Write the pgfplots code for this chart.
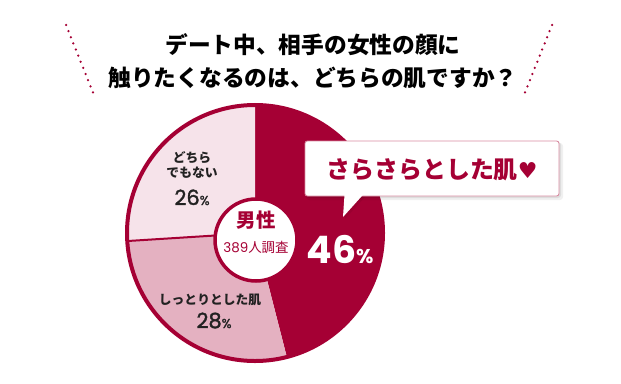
\documentclass[border=0pt]{standalone}
\usepackage{pgfplots}
\pgfplotsset{compat=1.18}
\usepackage{pgfplotstable}
\usepackage{fontspec}
\setmainfont{Noto Sans CJK JP}
\newfontfamily\jp{Noto Sans CJK JP}
\newfontfamily\pop{Poppins}
\newfontfamily\popm[FakeBold=1.6]{Poppins}
\newfontfamily\dv{DejaVu Sans}
\definecolor{crim}{HTML}{A50034}
\definecolor{lpink}{HTML}{E4B1C1}
\definecolor{vlpink}{HTML}{F6E3EA}
\definecolor{cborder}{HTML}{D98CA2}
\definecolor{dtext}{HTML}{222222}
\pgfplotstableread{
label value
sarasara 46
shittori 28
dochira 26
}\piedata
\begin{document}%
\pgfplotstablegetelem{0}{value}\of\piedata\let\va\pgfplotsretval%
\pgfplotstablegetelem{1}{value}\of\piedata\let\vb\pgfplotsretval%
\pgfplotstablegetelem{2}{value}\of\piedata\let\vc\pgfplotsretval%
\pgfmathsetmacro\aA{90}%
\pgfmathsetmacro\aB{90-3.6*\va}%
\pgfmathsetmacro\aC{\aB-3.6*\vb}%
\pgfmathsetmacro\aD{\aC-3.6*\vc}%
\begin{tikzpicture}
\begin{axis}[x=1bp,y=1bp,xmin=0,xmax=621,ymin=0,ymax=383,hide axis,clip=false]
\path (axis cs:0,0) rectangle (axis cs:621,383);
% title
\node[font=\jp\bfseries\fontsize{22.8}{27}\selectfont, text=black] at (axis cs:313,338) {デート中、相手の女性の顔に};
\node[font=\jp\bfseries\fontsize{22.8}{27}\selectfont, text=black] at (axis cs:313,305) {触りたくなるのは、どちらの肌ですか？};
% dotted lines
\draw[crim, line width=2.5bp, line cap=round, dash pattern=on 0pt off 6.6bp] (axis cs:66,358) -- (axis cs:93,290.5);
\draw[crim, line width=2.5bp, line cap=round, dash pattern=on 0pt off 6.6bp] (axis cs:552,358) -- (axis cs:525,290.5);
% pie
\fill[crim] (axis cs:255,150) -- ++(\aA:128bp) arc[start angle=\aA, end angle=\aB, radius=128bp] -- cycle;
\fill[lpink] (axis cs:255,150) -- ++(\aB:128bp) arc[start angle=\aB, end angle=\aC, radius=128bp] -- cycle;
\fill[vlpink] (axis cs:255,150) -- ++(\aC:128bp) arc[start angle=\aC, end angle=\aD, radius=128bp] -- cycle;
\draw[crim, line width=2bp] (axis cs:255,150) -- ++(\aC:128bp);
\draw[crim, line width=4bp] (axis cs:255,150) circle[radius=128bp];
\draw[crim, line width=3.5bp, fill=white] (axis cs:256,143) circle[radius=41bp];
% center text
\node[font=\jp\bfseries\fontsize{19.5}{22}\selectfont, text=crim] at (axis cs:256,163) {男性};
\node[font=\fontsize{13.5}{15}\selectfont, text=crim] at (axis cs:256,136) {{\pop 389}{\jp 人調査}};
% slice labels
\node[font=\jp\bfseries\fontsize{12.8}{15}\selectfont, text=dtext] at (axis cs:192,225) {どちら};
\node[font=\jp\bfseries\fontsize{12.8}{15}\selectfont, text=dtext] at (axis cs:192,210) {でもない};
\node[anchor=base, text=dtext, inner sep=0pt] at (axis cs:192,178) {{\popm\fontsize{21}{24}\selectfont 26}{\popm\fontsize{13}{15}\selectfont\%}};
\node[font=\jp\bfseries\fontsize{12.8}{15}\selectfont, text=dtext] at (axis cs:210,83) {しっとりとした肌};
\node[anchor=base, text=dtext, inner sep=0pt] at (axis cs:214,55) {{\popm\fontsize{21}{24}\selectfont 28}{\popm\fontsize{13}{15}\selectfont\%}};
\node[anchor=base, text=white, inner sep=0pt] at (axis cs:340,120) {{\pop\bfseries\fontsize{38}{40}\selectfont 46}{\pop\bfseries\fontsize{20}{22}\selectfont\%}};
% callout
\fill[black, opacity=0.06, rounded corners=3bp] (axis cs:306,240) rectangle (axis cs:563,183);
\fill[black, opacity=0.08, rounded corners=3bp] (axis cs:306,241) rectangle (axis cs:561,185);
\fill[black, opacity=0.06] (axis cs:346,186) -- (axis cs:345,164) -- (axis cs:365,186) -- cycle;
\draw[cborder, line width=0.9bp, fill=white, rounded corners=2.5bp] (axis cs:305,242) rectangle (axis cs:559,187);
\fill[white] (axis cs:344.5,188.2) -- (axis cs:343,166) -- (axis cs:363,188.2) -- cycle;
\node[text=crim] at (axis cs:432,213) {{\jp\bfseries\fontsize{24}{28}\selectfont さらさらとした肌}{\dv\fontsize{22}{28}\selectfont ♥}};
\end{axis}
\end{tikzpicture}
\end{document}
